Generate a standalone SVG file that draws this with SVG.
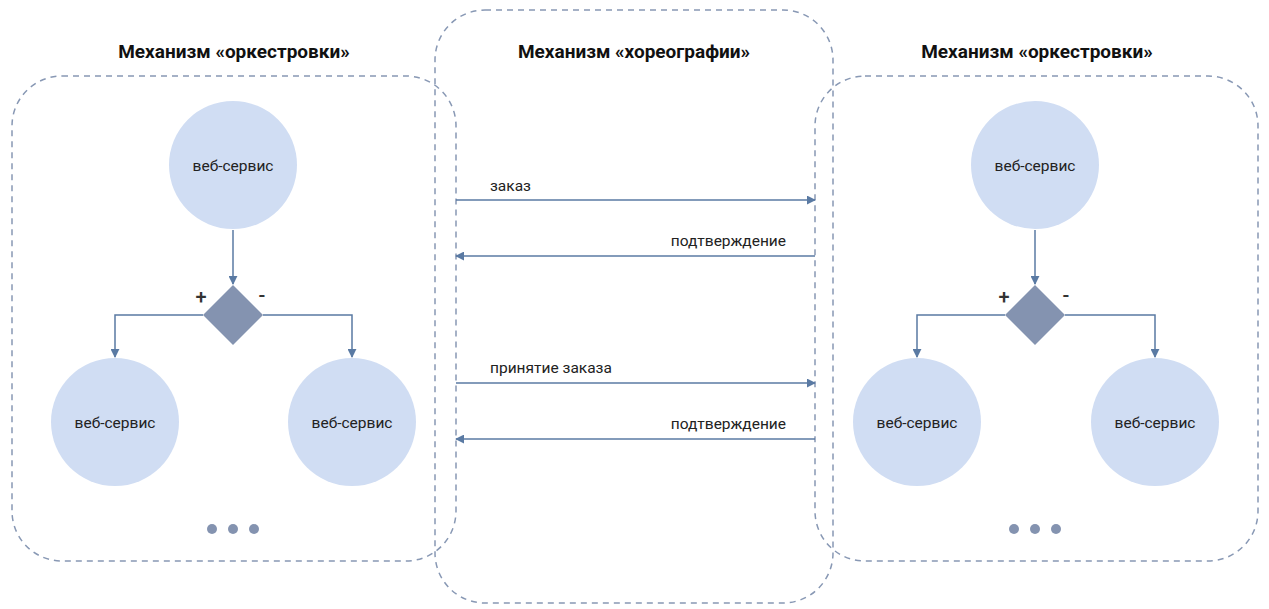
<svg xmlns="http://www.w3.org/2000/svg" width="1269" height="609" viewBox="0 0 1269 609">
<defs>
<style>
.box{fill:none;stroke:#8898b4;stroke-width:1.5;stroke-dasharray:6 5}
.circ{fill:#d0ddf3}
.dia{fill:#8493b0}
.dot{fill:#8493b0}
.edge{fill:none;stroke:#5a7aa3;stroke-width:1.5}
.t{font-family:Roboto,"Liberation Sans",sans-serif;font-size:15.5px;fill:#222}
.title{font-family:Roboto,"Liberation Sans",sans-serif;font-size:19px;font-weight:bold;fill:#111}
.sign{font-family:Roboto,"Liberation Sans",sans-serif;font-size:20px;font-weight:500;fill:#333}
</style>
<marker id="ah" viewBox="0 0 10 10" refX="9" refY="5" markerWidth="9" markerHeight="9" markerUnits="userSpaceOnUse" orient="auto">
<path d="M0,0 L10,5 L0,10 z" fill="#5a7aa3"/>
</marker>
</defs>
<rect width="1269" height="609" fill="#fff"/>

<g id="box-left"><rect class="box" x="12" y="76" width="444" height="485" rx="50"/></g>
<g id="box-mid"><rect class="box" x="435" y="10" width="398" height="593" rx="50"/></g>
<g id="box-right"><rect class="box" x="815" y="76" width="443" height="485" rx="50"/></g>

<g id="titles">
<text class="title" x="234" y="58" text-anchor="middle">Механизм «оркестровки»</text>
<text class="title" x="634" y="58" text-anchor="middle">Механизм «хореографии»</text>
<text class="title" x="1037" y="58" text-anchor="middle">Механизм «оркестровки»</text>
</g>

<g id="connectors">
<path class="edge" d="M233,230 V284" marker-end="url(#ah)"/>
<path class="edge" d="M203,315 H115 V357" marker-end="url(#ah)"/>
<path class="edge" d="M263,315 H352 V357" marker-end="url(#ah)"/>
<path class="edge" d="M1035,230 V284" marker-end="url(#ah)"/>
<path class="edge" d="M1005,315 H917 V357" marker-end="url(#ah)"/>
<path class="edge" d="M1065,315 H1155 V357" marker-end="url(#ah)"/>
<path class="edge" d="M456,200 H815" marker-end="url(#ah)"/>
<path class="edge" d="M815,256 H456" marker-end="url(#ah)"/>
<path class="edge" d="M456,383 H815" marker-end="url(#ah)"/>
<path class="edge" d="M815,439 H456" marker-end="url(#ah)"/>
</g>

<g id="msg-labels">
<text class="t" x="490" y="191">заказ</text>
<text class="t" x="786" y="246" text-anchor="end">подтверждение</text>
<text class="t" x="490" y="373">принятие заказа</text>
<text class="t" x="786" y="429" text-anchor="end">подтверждение</text>
</g>

<g id="L-top"><circle class="circ" cx="233" cy="165" r="64"/><text class="t" x="233" y="171" text-anchor="middle">веб-сервис</text></g>
<g id="L-dia"><path class="dia" d="M233,285 L263,315 L233,345 L203,315 z"/><text class="sign" x="201" y="304" text-anchor="middle">+</text><text class="sign" x="262" y="302" text-anchor="middle">-</text></g>
<g id="L-left"><circle class="circ" cx="115" cy="422" r="64"/><text class="t" x="115" y="428" text-anchor="middle">веб-сервис</text></g>
<g id="L-right"><circle class="circ" cx="352" cy="422" r="64"/><text class="t" x="352" y="428" text-anchor="middle">веб-сервис</text></g>
<g id="L-dots"><circle class="dot" cx="212" cy="529" r="5"/><circle class="dot" cx="233" cy="529" r="5"/><circle class="dot" cx="254" cy="529" r="5"/></g>

<g id="R-top"><circle class="circ" cx="1035" cy="165" r="64"/><text class="t" x="1035" y="171" text-anchor="middle">веб-сервис</text></g>
<g id="R-dia"><path class="dia" d="M1035,285 L1065,315 L1035,345 L1005,315 z"/><text class="sign" x="1004" y="304" text-anchor="middle">+</text><text class="sign" x="1066" y="302" text-anchor="middle">-</text></g>
<g id="R-left"><circle class="circ" cx="917" cy="422" r="64"/><text class="t" x="917" y="428" text-anchor="middle">веб-сервис</text></g>
<g id="R-right"><circle class="circ" cx="1155" cy="422" r="64"/><text class="t" x="1155" y="428" text-anchor="middle">веб-сервис</text></g>
<g id="R-dots"><circle class="dot" cx="1014" cy="529" r="5"/><circle class="dot" cx="1035" cy="529" r="5"/><circle class="dot" cx="1056" cy="529" r="5"/></g>
</svg>
